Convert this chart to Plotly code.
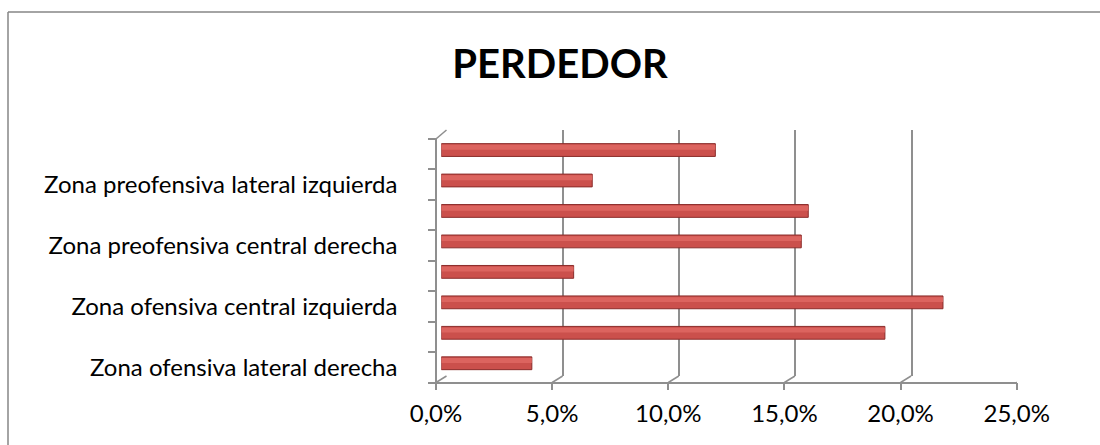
import plotly.graph_objects as go

# ---- data (bottom to top) ----
categories = [
    "Zona ofensiva lateral derecha",
    "Zona ofensiva central derecha",
    "Zona ofensiva central izquierda",
    "Zona ofensiva lateral izquierda",
    "Zona preofensiva central derecha",
    "Zona preofensiva central izquierda",
    "Zona preofensiva lateral izquierda",
    "Zona preofensiva lateral derecha",
]
values = [0.039, 0.191, 0.216, 0.057, 0.155, 0.158, 0.065, 0.118]
shown_labels = categories[0::2]
x_ticks = [0.0, 0.05, 0.10, 0.15, 0.20, 0.25]
title_text = "PERDEDOR"

# ---- layout geometry (pixels) ----
W, H = 1100, 445
L, R_EDGE = 436, 1028          # plot area left/right
T, B_EDGE = 130, 390           # plot area top/bottom
PW, PH = R_EDGE - L, B_EDGE - T
FRONT_W = 580.7                # front axis width for 0..25 %
DX, DY = 10.5, 6.5             # depth offset (back - front)

def px_x(p):
    return (p - L) / PW

def px_y(p):
    return (B_EDGE - p) / PH

FONT = "Lato"
GRID = "#8f8f8f"

fig = go.Figure()

# cylinder-like bars: base + highlight band
fig.add_trace(go.Bar(
    x=values, y=categories, orientation="h",
    xaxis="x3", yaxis="y3", width=0.42,
    marker=dict(color="#cb504c", line=dict(color="#8a2c2a", width=1)),
    hoverinfo="x+y",
))
fig.add_trace(go.Bar(
    x=values, y=categories, orientation="h",
    xaxis="x3", yaxis="y3", width=0.16, offset=0.01,
    marker=dict(color="#dc645f", line=dict(width=0)),
    hoverinfo="skip",
))
# invisible helpers so the label / grid axes exist
fig.add_trace(go.Scatter(x=values, y=categories, xaxis="x", yaxis="y",
                         mode="markers", marker=dict(opacity=0), hoverinfo="skip"))
fig.add_trace(go.Scatter(x=values, y=list(range(len(categories))), xaxis="x",
                         yaxis="y4", mode="markers", marker=dict(opacity=0),
                         hoverinfo="skip"))
fig.add_trace(go.Scatter(x=values, y=[0.5] * len(values), xaxis="x2", yaxis="y2",
                         mode="markers", marker=dict(opacity=0), hoverinfo="skip"))

front_floor = px_y(382.5)
front_top = px_y(139)

layout = dict(
    width=W, height=H,
    margin=dict(l=L, r=W - R_EDGE, t=T, b=H - B_EDGE, pad=0, autoexpand=False),
    paper_bgcolor="white", plot_bgcolor="rgba(0,0,0,0)",
    separators=",.",
    showlegend=False,
    barmode="overlay",
    title=dict(text="<b>" + title_text + "</b>", x=560 / W, xanchor="center",
               y=1 - 64 / H, yanchor="middle",
               font=dict(family=FONT, size=40, color="black")),
    # front x axis (labels, floor line, ticks)
    xaxis=dict(domain=[0, FRONT_W / PW], range=[0, 0.25], anchor="free",
               position=front_floor, showline=True, linecolor=GRID, linewidth=1.5,
               ticks="outside", ticklen=7, tickcolor=GRID, tickwidth=1.5,
               tickvals=x_ticks, tickformat=".1%", showgrid=False, zeroline=False,
               automargin=False, ticklabelstandoff=3,
               tickfont=dict(family=FONT, size=24, color="black")),
    # back wall gridlines
    xaxis2=dict(domain=[DX / PW, 1], range=[0, 0.25], anchor="y2",
                tickvals=x_ticks, showgrid=True, gridcolor=GRID, gridwidth=2,
                showticklabels=False, ticks="", showline=False, zeroline=False,
                automargin=False),
    yaxis2=dict(domain=[px_y(376), 1], range=[0, 1], showgrid=False,
                showticklabels=False, ticks="", showline=False, zeroline=False,
                anchor="x2", automargin=False),
    # bars (mid depth)
    xaxis3=dict(domain=[DX / 2 / PW, (FRONT_W + DX / 2) / PW], range=[0, 0.25],
                anchor="y3", visible=False, automargin=False),
    yaxis3=dict(domain=[px_y(378.5), px_y(134.8)], type="category",
                categoryarray=categories, categoryorder="array",
                range=[-0.5, len(categories) - 0.5], anchor="x3", visible=False,
                automargin=False),
    # front y labels
    yaxis=dict(domain=[front_floor, front_top], type="category",
               categoryarray=categories, categoryorder="array",
               range=[-0.5, len(categories) - 0.5], anchor="free", position=0,
               tickvals=shown_labels, ticktext=shown_labels, ticks="",
               showline=True, linecolor=GRID, linewidth=1.5, showgrid=False,
               zeroline=False, ticklabelstandoff=33, automargin=False,
               tickfont=dict(family=FONT, size=24, color="black")),
    # front y boundary ticks
    yaxis4=dict(domain=[front_floor, front_top], range=[0, len(categories)],
                overlaying="y", anchor="free", position=0,
                tickvals=list(range(len(categories) + 1)), ticks="outside",
                ticklen=8, tickcolor=GRID, tickwidth=1.5, showticklabels=False,
                showgrid=False, zeroline=False, showline=False, automargin=False),
)
fig.update_layout(**layout)

shapes = []
# floor connectors from front ticks to back gridlines
for v in x_ticks:
    shapes.append(dict(type="line", xref="x", xsizemode="pixel", xanchor=v,
                       x0=0, x1=DX, yref="paper", ysizemode="pixel",
                       yanchor=front_floor, y0=0, y1=DY,
                       line=dict(color=GRID, width=1.5)))
# left wall top edge
shapes.append(dict(type="line", xref="x", xsizemode="pixel", xanchor=0,
                   x0=0, x1=DX, yref="paper", ysizemode="pixel",
                   yanchor=front_top, y0=0, y1=9,
                   line=dict(color=GRID, width=1.5)))
# chart frame: left and top edges only (right/bottom lie outside the picture)
shapes.append(dict(type="line", xref="paper", yref="paper",
                   x0=px_x(8), x1=px_x(1100), y0=px_y(12), y1=px_y(12),
                   line=dict(color="#868686", width=1.5)))
shapes.append(dict(type="line", xref="paper", yref="paper",
                   x0=px_x(8), x1=px_x(8), y0=px_y(12), y1=px_y(445),
                   line=dict(color="#868686", width=1.5)))
fig.update_layout(shapes=shapes)

fig.write_html("out.html",
               config={"displayModeBar": False},
               post_script="document.documentElement.style.overflow='hidden';"
                           "document.body.style.margin='0';"
                           "document.body.style.overflow='hidden';")
